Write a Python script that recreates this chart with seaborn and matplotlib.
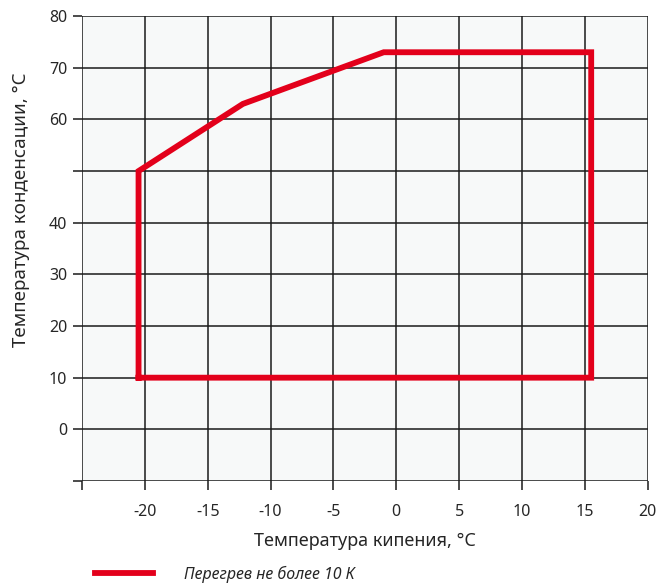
import numpy as np
import pandas as pd
import matplotlib
matplotlib.use("Agg")
import matplotlib.pyplot as plt
import seaborn as sns

# Operating envelope (boiling temp vs condensing temp)
t_evap = [-20.5, -20.5, -12.2, -1.0, 15.5, 15.5, -20.5]
t_cond = [10.0, 50.0, 63.0, 73.0, 73.0, 10.0, 10.0]
x_ticks = [-25, -20, -15, -10, -5, 0, 5, 10, 15, 20]
x_labels = ['', '-20', '-15', '-10', '-5', '0', '5', '10', '15', '20']
y_ticks = [-10, 0, 10, 20, 30, 40, 50, 60, 70, 80]
y_labels = ['', '0', '10', '20', '30', '40', '', '60', '70', '80']
legend_label = 'Перегрев не более 10 К'

sns.set_style('ticks', {'axes.facecolor': '#f7f9f9'})
plt.rcParams['font.family'] = ['Noto Sans', 'DejaVu Sans']

df = pd.DataFrame({'evap': t_evap, 'cond': t_cond})

fig = plt.figure(figsize=(6.61, 5.87), dpi=100)
ax = fig.add_axes([0.124, 0.1806, 0.856, 0.792])

sns.lineplot(data=df, x='evap', y='cond', sort=False, estimator=None,
             color='#e3001b', linewidth=4.2, ax=ax, label=legend_label,
             zorder=3, solid_joinstyle='miter', solid_capstyle='projecting')

ax.set_xlim(-25, 20)
ax.set_ylim(-10, 80)
ax.set_xticks(x_ticks)
ax.set_xticklabels(x_labels)
ax.set_yticks(y_ticks)
ax.set_yticklabels(y_labels)
ax.grid(True, color='#1a1a1a', linewidth=1.1)
ax.set_axisbelow(True)
for s in ax.spines.values():
    s.set_visible(False)
ax.tick_params(axis='both', length=6.5, width=1.1, color='#1a1a1a',
               labelsize=11.5, pad=10)
ax.tick_params(axis='y', pad=4)

ax.set_xlabel('Температура кипения, °C', fontsize=13, labelpad=9)
ax.set_ylabel('Температура конденсации, °C', fontsize=13.5)
ax.yaxis.set_label_coords(-0.091, 0.583)

ax.legend_.remove()
handles, labels = ax.get_legend_handles_labels()
leg = fig.legend(handles, labels, loc='center left',
                 bbox_to_anchor=(0.122, 0.022), frameon=False,
                 handlelength=3.6, handletextpad=2.0,
                 prop={'style': 'italic', 'size': 11.5})

fig.savefig('out.png', dpi=100)
